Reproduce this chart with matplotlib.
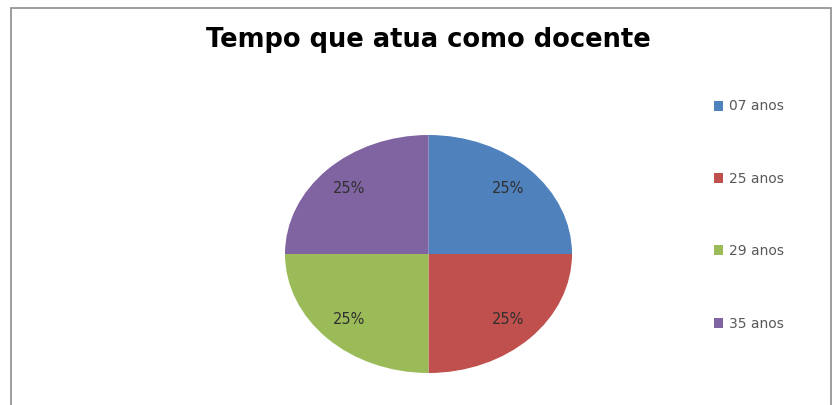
import matplotlib
matplotlib.use("Agg")
from matplotlib import pyplot as plt
from matplotlib.patches import Rectangle

title = "Tempo que atua como docente"
labels = ["07 anos", "25 anos", "29 anos", "35 anos"]
values = [25, 25, 25, 25]
colors = ["#4F81BD", "#C0504D", "#9BBB59", "#8064A2"]

W, H = 833, 405
fig = plt.figure(figsize=(W/100, H/100), dpi=100)
fig.patch.set_facecolor("white")

# chart border
fig.add_artist(Rectangle((11/W, -0.01), (831-11)/W, (H-8)/H + 0.01, transform=fig.transFigure,
                         fill=False, edgecolor="#8c8c8c", linewidth=1.2))

# pie axes stretched so the pie becomes an ellipse like the original
ax = fig.add_axes([285/W, (H-373)/H, (572-285)/W, (373-135)/H])
wedges, texts, autotexts = ax.pie(values, colors=colors, startangle=90, counterclock=False,
                                  autopct="%1.0f%%", pctdistance=0.78, radius=1,
                                  textprops={"fontsize": 10.5, "color": "#303030"})
ax.set_aspect("auto")
ax.set_xlim(-1, 1)
ax.set_ylim(-1, 1)
ax.axis("off")

fig.text(428/W, 1 - 40/H, title, ha="center", va="center", fontsize=18.5,
         fontweight="bold", color="#000000")

leg = fig.legend(wedges, labels, loc="upper left", bbox_to_anchor=(701/W, 1 - 87/H),
                 frameon=False, fontsize=10, labelspacing=4.2, handlelength=0.7,
                 handleheight=0.7, handletextpad=0.4, labelcolor="#595959")

fig.savefig("out.png", dpi=100)
